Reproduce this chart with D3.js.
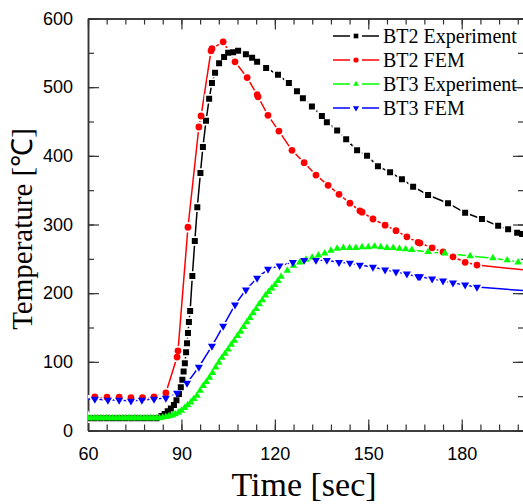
<!DOCTYPE html>
<html>
<head>
<meta charset="utf-8">
<script src="https://cdn.jsdelivr.net/npm/d3@7"></script>
<style>
  body { margin: 0; background: #fff; }
  svg { display: block; }
</style>
</head>
<body>
<svg id="chart" width="523" height="504"></svg>
<script>
// Values: [time (sec), temperature (C)]
const bt2Experiment = [
  [60, 18], [62, 18], [64, 18], [66, 18], [68, 18], [70, 18], [72, 18], [74, 18], [76, 18], [78, 18], [80, 18], [82, 18],
  [83.6, 21], [84.6, 24], [85.6, 28], [86.6, 32], [87.6, 37], [88.4, 44], [89.2, 53], [89.8, 63], [90.3, 74], [90.7, 86],
  [91.1, 98], [91.5, 114], [91.8, 127], [92.1, 142], [92.4, 158], [92.8, 174], [93.5, 225], [94.3, 276], [95.1, 325],
  [96.1, 375], [96.9, 413], [97.9, 451], [98.9, 483], [99.8, 506], [100.8, 521], [102.1, 535], [103.7, 544], [105.0, 550],
  [106.6, 551], [108.2, 553], [110.7, 548], [112.7, 543], [114.3, 537], [117.2, 528], [121.0, 518], [124.5, 506],
  [127.1, 494], [129.0, 484], [131.9, 472], [135.1, 458], [136.7, 449], [140.0, 437], [142.9, 424], [146.4, 408],
  [149.6, 400], [153.1, 385], [157.0, 376], [160.8, 366], [164.4, 355], [169.2, 343], [175.6, 331], [181.1, 317],
  [186.5, 308], [191.7, 298], [194.9, 293], [197.8, 288], [199.4, 286]
];

const bt2Fem = [
  [58.5, 48.8], [62.2, 48.8], [66.1, 48.6], [70.0, 48.6], [73.8, 47.8], [77.5, 47.8], [81.2, 48.8], [85.0, 54.6],
  [88.6, 107], [88.9, 116], [92.1, 296], [95.6, 442], [96.3, 458], [99.5, 553], [99.8, 556], [103.4, 566], [107.2, 537],
  [111.1, 514], [114.3, 489], [114.6, 486], [117.8, 459], [121.3, 436], [125.5, 408], [129.4, 390], [133.2, 372],
  [137.1, 357], [140.6, 344], [144.1, 331], [147.3, 320], [148.0, 318], [151.5, 308], [155.4, 299], [158.9, 291],
  [162.4, 282], [166.0, 274], [166.6, 273], [170.5, 266], [174.0, 260], [177.2, 253], [181.1, 245], [184.9, 241],
  [202, 233]
];

const bt3Experiment = [
  [60, 18], [61, 18], [62, 18], [63, 18], [64, 18], [65, 18], [66, 18], [67, 18], [68, 18], [69, 18], [70, 18], [71, 18],
  [72, 18], [73, 18], [74, 18], [75, 18], [76, 18], [77, 18], [78, 18], [79, 18], [80, 18], [81, 18], [82, 18], [83, 18],
  [84, 19], [85, 20], [86, 21], [87, 22], [88, 24], [89, 26], [90, 29], [91, 33], [92, 37], [93, 41], [94, 46], [95, 51],
  [96, 58], [97, 65], [98, 71], [99, 77], [100, 84], [101, 92], [102, 99], [103, 106], [104, 112], [105, 118],
  [106, 125], [107, 131], [108, 138], [109, 144], [110, 151], [111, 158], [112, 164], [113, 171], [114, 177],
  [115, 184], [116, 190], [117, 197], [118, 202], [119, 207], [120, 212], [121, 218], [122, 224], [124, 233],
  [126, 240], [128, 245], [130, 249], [132, 252], [134, 255], [136, 258], [138, 262], [140, 265], [142, 266],
  [144, 266], [146, 266], [148, 267], [150, 267], [152, 268], [154, 267], [156, 266], [158, 266], [160, 265],
  [162, 264], [164, 263], [169.2, 260], [174.6, 258], [182.7, 254], [190.0, 251], [194.6, 248], [198.1, 245],
  [203, 243]
];

const bt3Fem = [
  [58.5, 45.9], [62.2, 45.9], [66.4, 44.4], [70.0, 44.4], [73.8, 43], [77.3, 44.4], [81.2, 45.9], [85.0, 47.3],
  [88.6, 54.6], [91.8, 69], [95.6, 92.5], [99.8, 123], [103.4, 152], [107.2, 183], [110.7, 205], [114.3, 222],
  [117.8, 235], [121.5, 240], [125.8, 245], [129.4, 248], [133.2, 248], [136.7, 248], [140.6, 245], [144.1, 244],
  [147.3, 241], [151.5, 238], [155.4, 234], [158.9, 231], [162.4, 228], [166.0, 224], [166.6, 224], [170.5, 221],
  [174.0, 218], [177.2, 215], [181.1, 212], [184.9, 209], [202, 203]
];

const seriesNames = ["BT2 Experiment", "BT2 FEM", "BT3 Experiment", "BT3 FEM"];
const xTicks = [60, 90, 120, 150, 180];
const xMinorTicks = d3.range(60, 201, 6);
const yTicks = [0, 100, 200, 300, 400, 500, 600];
const yMinorTicks = d3.range(0, 601, 50);

const svg = d3.select("#chart");

const x = d3.scaleLinear().domain([60, 200]).range([88, 524]);
const y = d3.scaleLinear().domain([0, 600]).range([430.5, 18.5]);

const series = [
  { name: seriesNames[0], data: bt2Experiment, color: "#000000", symbol: d3.symbolSquare, size: 36, rot: 0 },
  { name: seriesNames[1], data: bt2Fem, color: "#ff0000", symbol: d3.symbolCircle, size: 36, rot: 0 },
  { name: seriesNames[2], data: bt3Experiment, color: "#00ff00", symbol: d3.symbolTriangle, size: 24, rot: 0 },
  { name: seriesNames[3], data: bt3Fem, color: "#0000ff", symbol: d3.symbolTriangle, size: 28, rot: 180 }
];

svg.append("defs").append("clipPath").attr("id", "plot-clip")
  .append("rect")
  .attr("x", x.range()[0])
  .attr("y", y.range()[1])
  .attr("width", x.range()[1] - x.range()[0])
  .attr("height", y.range()[0] - y.range()[1]);

// Axes, ticks pointing inward on all four sides
function styleAxis(g) {
  g.selectAll("path.domain").attr("stroke", "#333").attr("stroke-width", 1.5);
  g.selectAll(".tick line").attr("stroke", "#333").attr("stroke-width", 1.2);
  g.selectAll("text")
    .attr("font-family", "'Liberation Sans', Arial, sans-serif")
    .attr("font-size", 18)
    .attr("fill", "#000");
}

// minor ticks
svg.append("g").attr("transform", "translate(0," + y(0) + ")")
  .call(d3.axisBottom(x).tickValues(xMinorTicks).tickSize(-6).tickSizeOuter(0).tickFormat(""))
  .call(styleAxis);
svg.append("g").attr("transform", "translate(0," + y(600) + ")")
  .call(d3.axisTop(x).tickValues(xMinorTicks).tickSize(-6).tickSizeOuter(0).tickFormat(""))
  .call(styleAxis);
svg.append("g").attr("transform", "translate(" + x(60) + ",0)")
  .call(d3.axisLeft(y).tickValues(yMinorTicks).tickSize(-6).tickSizeOuter(0).tickFormat(""))
  .call(styleAxis);
svg.append("g").attr("transform", "translate(" + x(200) + ",0)")
  .call(d3.axisRight(y).tickValues(yMinorTicks).tickSize(-6).tickSizeOuter(0).tickFormat(""))
  .call(styleAxis);

// major ticks
svg.append("g").attr("transform", "translate(0," + y(0) + ")")
  .call(d3.axisBottom(x).tickValues(xTicks).tickSize(-11).tickSizeOuter(0).tickPadding(17).tickFormat(d3.format("d")))
  .call(styleAxis);
svg.append("g").attr("transform", "translate(0," + y(600) + ")")
  .call(d3.axisTop(x).tickValues(xTicks).tickSize(-11).tickSizeOuter(0).tickFormat(""))
  .call(styleAxis);
svg.append("g").attr("transform", "translate(" + x(60) + ",0)")
  .call(d3.axisLeft(y).tickValues(yTicks).tickSize(-11).tickSizeOuter(0).tickPadding(15).tickFormat(d3.format("d")))
  .call(styleAxis);
svg.append("g").attr("transform", "translate(" + x(200) + ",0)")
  .call(d3.axisRight(y).tickValues(yTicks).tickSize(-11).tickSizeOuter(0).tickFormat(""))
  .call(styleAxis);

// Plot area: lines first, then white gaps round the symbols, then the symbols
const plot = svg.append("g").attr("clip-path", "url(#plot-clip)");

const line = d3.line()
  .x(d => x(d[0]))
  .y(d => y(d[1]));

series.forEach(function (s) {
  plot.append("path")
    .datum(s.data)
    .attr("fill", "none")
    .attr("stroke", s.color)
    .attr("stroke-width", 1.5)
    .attr("d", line);
});

series.forEach(function (s) {
  plot.append("g").selectAll("path")
    .data(s.data)
    .enter()
    .append("path")
    .attr("transform", d => "translate(" + x(d[0]) + "," + y(d[1]) + ") rotate(" + s.rot + ")")
    .attr("d", d3.symbol().type(s.symbol).size(s.size))
    .attr("fill", "#fff")
    .attr("stroke", "#fff")
    .attr("stroke-width", 3.5);
});

series.forEach(function (s) {
  plot.append("g").selectAll("path")
    .data(s.data)
    .enter()
    .append("path")
    .attr("transform", d => "translate(" + x(d[0]) + "," + y(d[1]) + ") rotate(" + s.rot + ")")
    .attr("d", d3.symbol().type(s.symbol).size(s.size))
    .attr("fill", s.color);
});

// Legend
const legend = svg.append("g");
series.forEach(function (s, i) {
  const base = 43 + i * 24;
  const cy = base - 7;
  const row = legend.append("g");
  row.append("line")
    .attr("x1", 333).attr("x2", 350).attr("y1", cy).attr("y2", cy)
    .attr("stroke", s.color).attr("stroke-width", 1.5);
  row.append("line")
    .attr("x1", 362).attr("x2", 379).attr("y1", cy).attr("y2", cy)
    .attr("stroke", s.color).attr("stroke-width", 1.5);
  row.append("path")
    .attr("transform", "translate(356," + cy + ") rotate(" + s.rot + ")")
    .attr("d", d3.symbol().type(s.symbol).size(s.size * 0.6))
    .attr("fill", s.color);
  row.append("text")
    .attr("x", 383)
    .attr("y", base)
    .attr("font-family", "'Liberation Serif', 'Times New Roman', serif")
    .attr("font-size", 20)
    .text(s.name);
});

// Axis titles
svg.append("text")
  .attr("x", 304)
  .attr("y", 496)
  .attr("text-anchor", "middle")
  .attr("font-family", "'Liberation Serif', 'Times New Roman', serif")
  .attr("font-size", 34)
  .text("Time [sec]");

svg.append("text")
  .attr("transform", "translate(32,229) rotate(-90)")
  .attr("text-anchor", "middle")
  .attr("font-family", "'Liberation Serif', 'Times New Roman', serif")
  .attr("font-size", 29)
  .text("Temperature [℃]");
</script>
</body>
</html>
